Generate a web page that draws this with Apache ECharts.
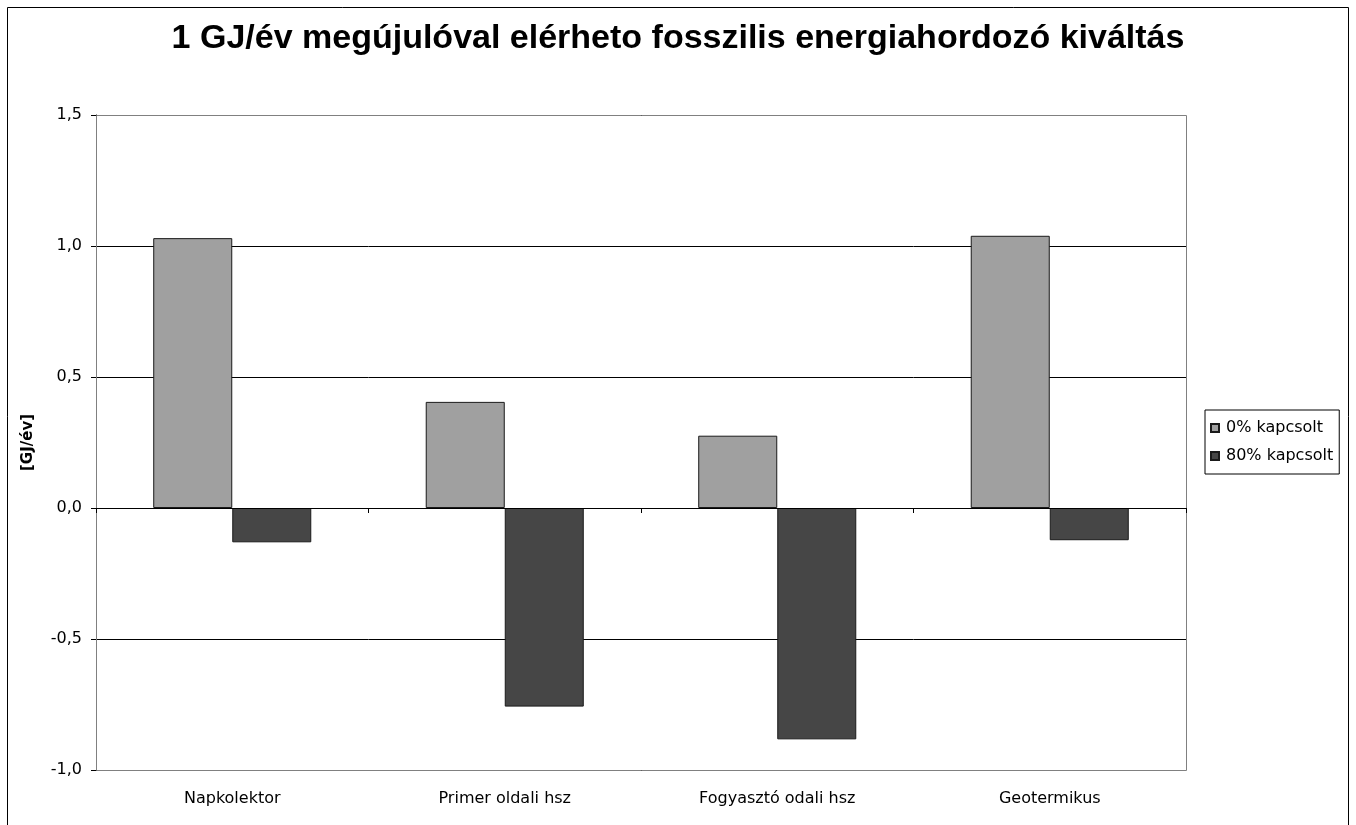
<!DOCTYPE html>
<html>
<head>
<meta charset="utf-8">
<script src="https://cdn.jsdelivr.net/npm/echarts@6/dist/echarts.min.js"></script>
<style>
  html, body { margin: 0; padding: 0; background: #fff; }
  #chart { width: 1356px; height: 825px; }
</style>
</head>
<body>
<div id="chart"></div>
<script>
// Categories and values (GJ/év)
const categories = ['Napkolektor', 'Primer oldali hsz', 'Fogyasztó odali hsz', 'Geotermikus'];
const seriesNames = ['0% kapcsolt', '80% kapcsolt'];
const values0 = [1.03, 0.405, 0.276, 1.039];
const values80 = [-0.131, -0.758, -0.883, -0.123];
const yTicks = [-1.0, -0.5, 0.0, 0.5, 1.0, 1.5];

const TITLE_FONT = 'Liberation Sans, Arial, sans-serif';
const FONT = 'DejaVu Sans, Liberation Sans, sans-serif';
const chart = echarts.init(document.getElementById('chart'), null, { renderer: 'canvas' });

chart.setOption({
  backgroundColor: '#ffffff',
  animation: false,
  title: {
    text: '1 GJ/év megújulóval elérheto fosszilis energiahordozó kiváltás',
    left: 'center',
    top: 17,
    textStyle: { fontFamily: TITLE_FONT, fontWeight: 'bold', fontSize: 34, color: '#000' }
  },
  graphic: [
    // outer chart frame
    { type: 'rect', shape: { x: 7.5, y: 7.5, width: 1341, height: 830 }, style: { fill: 'none', stroke: '#000', lineWidth: 1 }, silent: true },
    // plot area frame
    { type: 'rect', shape: { x: 96.5, y: 115.5, width: 1090, height: 655 }, style: { fill: 'none', stroke: '#808080', lineWidth: 1 }, silent: true, z: 1 }
  ],
  legend: {
    orient: 'vertical',
    left: 1205,
    top: 410,
    width: 142,
    data: seriesNames,
    itemWidth: 8,
    itemHeight: 8,
    itemGap: 12,
    icon: 'rect',
    padding: [10, 6, 10, 5],
    borderColor: '#000',
    borderWidth: 1,
    textStyle: { fontFamily: FONT, fontSize: 16, color: '#000', width: 122, padding: [0, 0, 0, 2] }
  },
  grid: { left: 96, right: 170, top: 115, bottom: 55 },
  xAxis: [
    {
      type: 'category',
      data: categories,
      position: 'bottom',
      axisLine: { onZero: true, lineStyle: { color: '#000', width: 1 } },
      axisTick: { show: true, inside: false, length: 5, lineStyle: { color: '#000' } },
      axisLabel: { show: false },
      splitLine: { show: false },
      z: 5
    },
    {
      type: 'category',
      data: categories,
      position: 'bottom',
      axisLine: { show: false, onZero: false },
      axisTick: { show: false },
      axisLabel: { show: true, margin: 21, fontFamily: FONT, fontSize: 16, color: '#000' }
    }
  ],
  yAxis: {
    type: 'value',
    min: -1.0,
    max: 1.5,
    interval: 0.5,
    name: '[GJ/év]',
    nameLocation: 'middle',
    nameGap: 60,
    nameRotate: 90,
    nameTextStyle: { fontFamily: FONT, fontSize: 15, fontWeight: 'bold', color: '#000' },
    axisLine: { show: true, lineStyle: { color: '#000', width: 1 } },
    axisTick: { show: true, length: 5, lineStyle: { color: '#000' } },
    axisLabel: {
      fontFamily: FONT, fontSize: 16, color: '#000', margin: 14,
      formatter: v => yTicks.includes(Math.round(v * 10) / 10) ? v.toFixed(1).replace('.', ',') : ''
    },
    splitLine: { show: true, lineStyle: { color: '#000', width: 1 } }
  },
  series: [
    {
      name: seriesNames[0],
      type: 'bar',
      xAxisIndex: 0,
      data: values0,
      barGap: '0%',
      barCategoryGap: '42%',
      itemStyle: { color: '#a0a0a0', borderColor: '#1a1a1a', borderWidth: 1 },
      z: 3
    },
    {
      name: seriesNames[1],
      type: 'bar',
      xAxisIndex: 0,
      data: values80,
      barGap: '0%',
      barCategoryGap: '42%',
      itemStyle: { color: '#464646', borderColor: '#1a1a1a', borderWidth: 1 },
      z: 3
    }
  ]
});
</script>
</body>
</html>
